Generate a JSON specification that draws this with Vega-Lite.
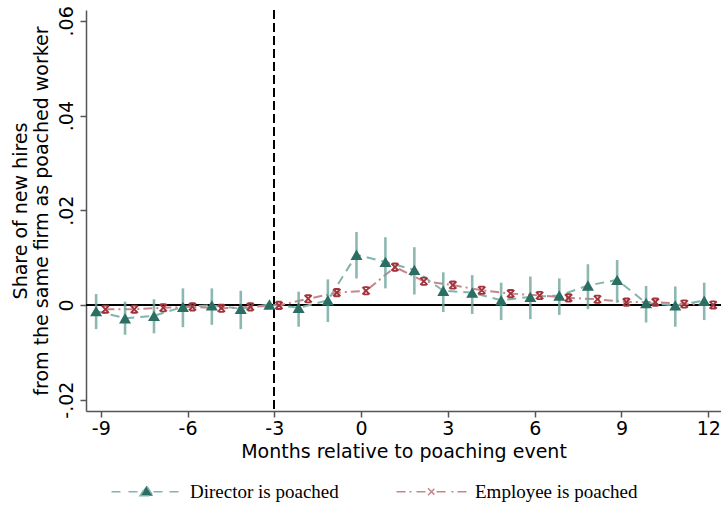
{
  "$schema": "https://vega.github.io/schema/vega-lite/v6.json",
  "width": 635,
  "height": 401,
  "autosize": {"type": "none"},
  "padding": {"left": 86, "top": 10, "right": 0, "bottom": 95},
  "background": "white",
  "config": {
    "view": {"stroke": null},
    "axis": {
      "grid": false,
      "labelFont": "DejaVu Sans",
      "titleFont": "DejaVu Sans",
      "labelFontSize": 19,
      "titleFontSize": 19,
      "titleFontWeight": "normal",
      "labelColor": "black",
      "titleColor": "black",
      "domainColor": "#555",
      "tickColor": "#555",
      "domainWidth": 1.5,
      "tickWidth": 1.5,
      "tickSize": 6
    }
  },
  "data": {
    "values": [
      {"series": "Director is poached", "x": -9.16, "y": -0.0013, "lo": -0.0051, "hi": 0.0023},
      {"series": "Director is poached", "x": -8.16, "y": -0.0028, "lo": -0.0063, "hi": 0.0007},
      {"series": "Director is poached", "x": -7.16, "y": -0.0023, "lo": -0.0060, "hi": 0.0012},
      {"series": "Director is poached", "x": -6.16, "y": -0.0004, "lo": -0.0047, "hi": 0.0035},
      {"series": "Director is poached", "x": -5.16, "y": -0.0001, "lo": -0.0042, "hi": 0.0035},
      {"series": "Director is poached", "x": -4.16, "y": -0.0008, "lo": -0.0051, "hi": 0.0030},
      {"series": "Director is poached", "x": -3.17, "y": 0.0001, "lo": 0.0001, "hi": 0.0001},
      {"series": "Director is poached", "x": -2.16, "y": -0.0006, "lo": -0.0046, "hi": 0.0028},
      {"series": "Director is poached", "x": -1.15, "y": 0.0010, "lo": -0.0036, "hi": 0.0054},
      {"series": "Director is poached", "x": -0.16, "y": 0.0106, "lo": 0.0056, "hi": 0.0154},
      {"series": "Director is poached", "x": 0.84, "y": 0.0091, "lo": 0.0035, "hi": 0.0143},
      {"series": "Director is poached", "x": 1.84, "y": 0.0074, "lo": 0.0022, "hi": 0.0122},
      {"series": "Director is poached", "x": 2.84, "y": 0.0030, "lo": -0.0015, "hi": 0.0069},
      {"series": "Director is poached", "x": 3.84, "y": 0.0026, "lo": -0.0019, "hi": 0.0063},
      {"series": "Director is poached", "x": 4.84, "y": 0.0010, "lo": -0.0032, "hi": 0.0047},
      {"series": "Director is poached", "x": 5.85, "y": 0.0017, "lo": -0.0030, "hi": 0.0060},
      {"series": "Director is poached", "x": 6.85, "y": 0.0020, "lo": -0.0021, "hi": 0.0056},
      {"series": "Director is poached", "x": 7.84, "y": 0.0041, "lo": -0.0009, "hi": 0.0086},
      {"series": "Director is poached", "x": 8.85, "y": 0.0053, "lo": 0.0005, "hi": 0.0095},
      {"series": "Director is poached", "x": 9.85, "y": 0.0004, "lo": -0.0037, "hi": 0.0040},
      {"series": "Director is poached", "x": 10.86, "y": -0.0001, "lo": -0.0046, "hi": 0.0039},
      {"series": "Director is poached", "x": 11.86, "y": 0.0009, "lo": -0.0032, "hi": 0.0047},
      {"series": "Employee is poached", "x": -8.84, "y": -0.0009},
      {"series": "Employee is poached", "x": -7.84, "y": -0.0009},
      {"series": "Employee is poached", "x": -6.84, "y": -0.0006},
      {"series": "Employee is poached", "x": -5.83, "y": -0.0004},
      {"series": "Employee is poached", "x": -4.83, "y": -0.0007},
      {"series": "Employee is poached", "x": -3.83, "y": -0.0004},
      {"series": "Employee is poached", "x": -2.84, "y": -0.0001},
      {"series": "Employee is poached", "x": -1.83, "y": 0.0013},
      {"series": "Employee is poached", "x": -0.84, "y": 0.0026},
      {"series": "Employee is poached", "x": 0.17, "y": 0.0030},
      {"series": "Employee is poached", "x": 1.17, "y": 0.0080},
      {"series": "Employee is poached", "x": 2.17, "y": 0.0050},
      {"series": "Employee is poached", "x": 3.17, "y": 0.0042},
      {"series": "Employee is poached", "x": 4.17, "y": 0.0031},
      {"series": "Employee is poached", "x": 5.17, "y": 0.0024},
      {"series": "Employee is poached", "x": 6.17, "y": 0.0020},
      {"series": "Employee is poached", "x": 7.17, "y": 0.0015},
      {"series": "Employee is poached", "x": 8.17, "y": 0.0012},
      {"series": "Employee is poached", "x": 9.17, "y": 0.0006},
      {"series": "Employee is poached", "x": 10.17, "y": 0.0006},
      {"series": "Employee is poached", "x": 11.17, "y": 0.0002},
      {"series": "Employee is poached", "x": 12.17, "y": 0.0000}
    ]
  },
  "encoding": {
    "x": {
      "field": "x", "type": "quantitative",
      "scale": {"domain": [-9.51, 12.44], "nice": false, "zero": false},
      "axis": {
        "values": [-9, -6, -3, 0, 3, 6, 9, 12],
        "labelExpr": "datum.value < 0 ? '-' + abs(datum.value) : '' + datum.value",
        "title": "Months relative to poaching event", "labelPadding": 2, "titlePadding": 4, "labelFlush": false
      }
    },
    "y": {
      "field": "y", "type": "quantitative",
      "scale": {"domain": [-0.0224, 0.0623], "nice": false, "zero": false},
      "axis": {
        "values": [-0.02, 0, 0.02, 0.04, 0.06],
        "labelExpr": "datum.value == 0 ? '0' : (datum.value < 0 ? '-' : '') + replace(format(abs(datum.value), '.2f'), '0.', '.')",
        "labelAngle": -90, "labelAlign": "center", "labelBaseline": "alphabetic", "labelPadding": 8,
        "title": ["Share of new hires", "from the same firm as poached worker"],
        "titleLineHeight": 21, "titlePadding": 6, "labelFlush": false
      }
    }
  },
  "layer": [
    {
      "mark": {"type": "rule", "color": "black", "strokeWidth": 1.5},
      "encoding": {"y": {"datum": 0}, "x": null}
    },
    {
      "mark": {"type": "rule", "color": "black", "strokeWidth": 1.3, "strokeDash": [9, 4]},
      "encoding": {"x": {"datum": -3}, "y": null}
    },
    {
      "mark": {"type": "line", "strokeWidth": 2},
      "encoding": {
        "color": {
          "field": "series", "type": "nominal",
          "scale": {"domain": ["Director is poached", "Employee is poached"], "range": ["#80b4ac", "#c6878c"]},
          "legend": {
            "orient": "none", "legendX": 21, "legendY": 472, "direction": "horizontal",
            "title": null, "symbolSize": 100, "symbolStrokeWidth": 1.5,
            "labelOffset": 64, "labelFont": "Liberation Serif", "labelFontSize": 19,
            "labelColor": "black", "labelLimit": 400, "columnPadding": 53,
            "encode": {
              "symbols": {
                "update": {
                  "shape": {"signal": "datum.value === 'Director is poached' ? 'M-1,0L1.4,0M2.4,0L4.6,0M7.4,0L9.6,0M10.6,0L13,0M4.7,0.8L7.3,0.8L6,-1.2Z' : 'M-1,0L0.8,0M1.6,0L2,0M3,0L5,0M7,0L9,0M10,0L10.4,0M11.2,0L13,0M5.3,-0.7L6.7,0.7M5.3,0.7L6.7,-0.7'"},
                  "fill": {"signal": "datum.value === 'Director is poached' ? '#2a6e64' : 'transparent'"},
                  "stroke": {"signal": "datum.value === 'Director is poached' ? '#80b4ac' : '#b8727a'"},
                  "strokeDash": {"value": [1, 0]},
                  "opacity": {"value": 1}
                }
              }
            }
          }
        },
        "strokeDash": {
          "field": "series", "type": "nominal",
          "scale": {"domain": ["Director is poached", "Employee is poached"], "range": [[9, 6], [9, 4, 2, 4]]},
          "legend": null
        }
      }
    },
    {
      "transform": [{"filter": "datum.series === 'Director is poached'"}],
      "mark": {"type": "rule", "color": "#6fa69d", "strokeWidth": 2.6, "opacity": 0.8},
      "encoding": {"y": {"field": "lo", "type": "quantitative"}, "y2": {"field": "hi"}}
    },
    {
      "transform": [{"filter": "datum.series === 'Director is poached'"}],
      "mark": {"type": "point", "shape": "triangle-up", "size": 144, "filled": true, "color": "#2a6e64", "opacity": 1}
    },
    {
      "transform": [{"filter": "datum.series === 'Employee is poached'"}],
      "mark": {"type": "point", "shape": "M-1,-1L1,1M-1,1L1,-1M-0.7,-1L0.7,-1M-0.7,1L0.7,1", "size": 52, "filled": false, "stroke": "#a3333b", "strokeWidth": 1.9, "opacity": 1}
    }
  ]
}
